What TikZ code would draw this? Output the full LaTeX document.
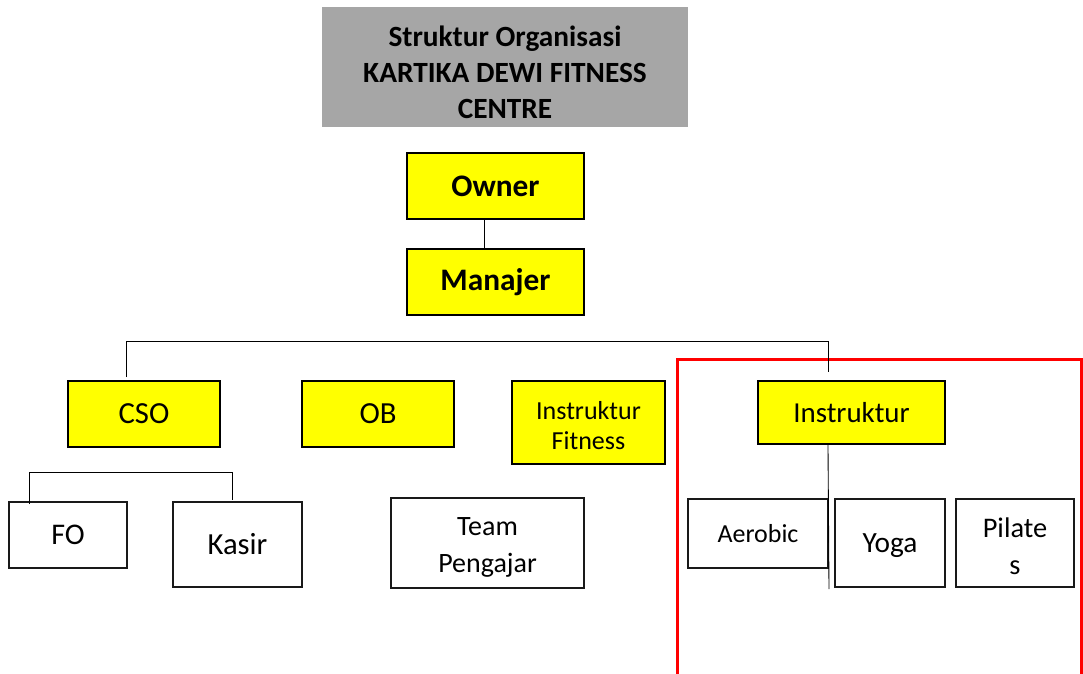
\documentclass[tikz,border=0pt]{standalone}
\usepackage{fontspec}
\setmainfont{Carlito}
\usetikzlibrary{calc}
\definecolor{titlegray}{HTML}{A6A6A6}
\definecolor{boxyellow}{HTML}{FFFF00}
\definecolor{framered}{HTML}{FF0000}
\tikzset{
  sz/.style 2 args={minimum width=#1*0.75pt, minimum height=#2*0.75pt},
  ybox/.style={draw=black, line width=1.5pt, fill=boxyellow, inner sep=0pt, align=center},
  wbox/.style={draw=black!90, line width=1.5pt, fill=white, inner sep=0pt, align=center},
  tbox/.style={fill=titlegray, inner sep=0pt, align=center},
  txt/.style={inner sep=0pt, align=center},
  conn/.style={draw=black, line width=0.65pt},
  redframe/.style={draw=framered, line width=1.6pt},
}
\newcommand{\fs}[2]{\fontsize{#1}{#2}\selectfont}
\begin{document}
\begin{tikzpicture}[x=0.75pt, y=-0.75pt]
\useasboundingbox (0,0) rectangle (1083,674);
% red frame
\draw[redframe] (677.5,680) -- (677.5,359.5) -- (1081.5,359.5) -- (1081.5,680);
% title
\node[tbox, sz={366}{120}] (title) at (505,67) {};
\node[txt, font=\fs{22pt}{27pt}\bfseries] (titletext) at ($(title.center)+(0,5)$)
  {Struktur Organisasi\\KARTIKA DEWI FITNESS\\CENTRE};
% top
\node[ybox, sz={177}{66}, font=\fs{23.5pt}{28pt}\bfseries] (owner) at (495.5,186) {Owner};
\node[ybox, sz={177}{66}, font=\fs{23.5pt}{28pt}\bfseries] (manajer) at (495.5,282) {Manajer};
% second level
\node[ybox, sz={152}{66}, font=\fs{23pt}{28pt}] (cso) at (144,414) {CSO};
\node[ybox, sz={152}{66}, font=\fs{23pt}{28pt}] (ob) at (378,414) {OB};
\node[ybox, sz={153}{83}] (ifit) at (588.5,422.5) {};
\node[txt, font=\fs{19.5pt}{23pt}] (ifittext) at ($(ifit.center)+(0,3)$) {Instruktur\\Fitness};
\node[ybox, sz={187}{63}, font=\fs{21.7pt}{26pt}] (instr) at (851.5,412.5) {Instruktur};
% third level
\node[wbox, sz={118}{66}, font=\fs{22.5pt}{27pt}] (fo) at (68,535) {FO};
\node[wbox, sz={129}{85}, font=\fs{23pt}{27pt}] (kasir) at (237.5,544.5) {Kasir};
\node[wbox, sz={193}{90}] (team) at (487.5,543) {};
\node[txt, font=\fs{21pt}{27.75pt}] (teamtext) at ($(team.center)+(0,4)$) {Team\\Pengajar};
\node[wbox, sz={140}{69}, font=\fs{19.5pt}{24pt}] (aerobic) at (758,533.5) {Aerobic};
\node[wbox, sz={110}{88}] (yoga) at (890,543) {};
\node[txt, font=\fs{22pt}{27pt}] (yogatext) at ($(yoga.center)+(0,3)$) {Yoga};
\node[wbox, sz={118}{88}] (pilates) at (1015,543) {};
\node[txt, font=\fs{21.3pt}{27.75pt}] (pilatestext) at ($(pilates.center)+(0,3)$) {Pilate\\s};
% connectors
\draw[conn] ($(owner.south)+(-11,0)$) -- ($(manajer.north)+(-11,0)$);
\draw[conn] ($(cso.north)+(-18,-3)$) -- ++(0,-36) -| ($(instr.north)+(-23.5,-8)$);
\draw[conn] ($(fo.north)+(-38.5,3)$) -- ++(0,-32) -| ($(kasir.north)+(-5.5,-1)$);
\draw[conn] ($(instr.south)+(-23.5,0)$) -- ($(aerobic.south east |- yoga.south)+(0,1)$);
\end{tikzpicture}
\end{document}
